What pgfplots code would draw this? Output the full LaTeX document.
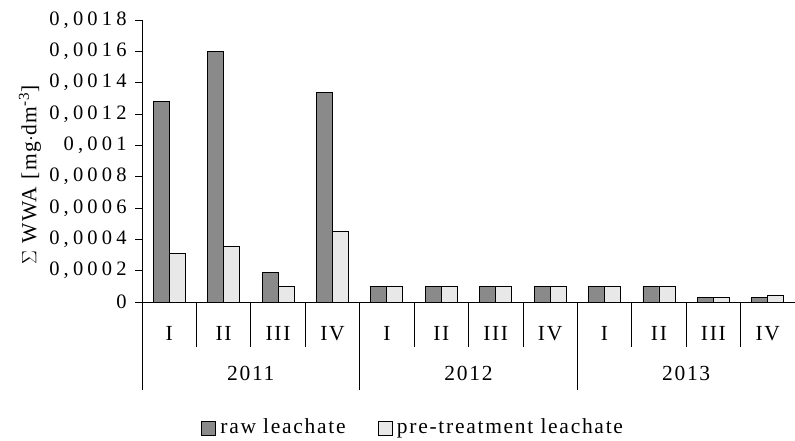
\documentclass[border=0pt]{standalone}
\usepackage{fontspec}
\setmainfont{Liberation Serif}[LetterSpace=8]
\newfontfamily\tickfont{Liberation Serif}
\usepackage{pgfplots}
\pgfplotsset{compat=1.18}

\definecolor{rawgray}{HTML}{8A8A8A}
\definecolor{pregray}{HTML}{E8E8E8}

% spaced tick label: kern between characters
\def\lsp#1{\lspfirst#1\relax}
\def\lspfirst#1{#1\lsprest}
\def\lsprest#1{\ifx#1\relax\else\kern4.2bp#1\expandafter\lsprest\fi}

\begin{document}
\fontsize{21.5bp}{25bp}\selectfont
\begin{tikzpicture}
\path[use as bounding box] (-142bp,-139bp) rectangle (653bp,302bp);
\begin{axis}[
    at={(0,0)}, anchor=south west,
    scale only axis,
    width=653bp, height=282bp,
    ybar=0pt,
    bar width=16bp,
    xmin=-0.5, xmax=11.5,
    ymin=0, ymax=0.0018,
    axis x line*=bottom,
    axis y line*=left,
    axis line style={black, line width=0.8pt},
    xtick={0,...,11},
    xticklabels={I,II,III,IV,I,II,III,IV,I,II,III,IV},
    x tick style={draw=none},
    xticklabel style={yshift=-10bp},
    ytick={0,0.0002,0.0004,0.0006,0.0008,0.001,0.0012,0.0014,0.0016,0.0018},
    yticklabels={\lsp{0},\lsp{0,0002},\lsp{0,0004},\lsp{0,0006},\lsp{0,0008},\lsp{0,001},\lsp{0,0012},\lsp{0,0014},\lsp{0,0016},\lsp{0,0018}},
    yticklabel style={font=\tickfont\fontsize{20.5bp}{24bp}\selectfont, xshift=-1bp},
    y tick style={black, line width=0.8pt},
    tick align=outside,
    major tick length=7bp,
    scaled y ticks=false,
    ylabel={$\Sigma$ WWA [mg$\cdot$dm\textsuperscript{-3}]},
    ylabel style={at={(axis description cs:-0.1715,0.45)}, anchor=center},
    clip=false,
    legend columns=2,
    legend style={draw=none, at={(0.415,-0.447)}, anchor=center,
        /tikz/every even column/.append style={column sep=30bp}},
    legend image code/.code={\draw[#1, draw=black, line width=0.8pt] (0bp,-7bp) rectangle (14bp,7bp);
        \path[draw=none, fill=none] (0bp,0bp) -- (17bp,0bp);},
]
\addplot[fill=rawgray, draw=black, line width=0.8pt] coordinates {
    (0,0.00128) (1,0.0016) (2,0.00019) (3,0.001335)
    (4,0.0001) (5,0.0001) (6,0.0001) (7,0.0001)
    (8,0.0001) (9,0.0001) (10,0.00003) (11,0.00003)
};
\addplot[fill=pregray, draw=black, line width=0.8pt] coordinates {
    (0,0.00031) (1,0.000355) (2,0.0001) (3,0.00045)
    (4,0.0001) (5,0.0001) (6,0.0001) (7,0.0001)
    (8,0.0001) (9,0.0001) (10,0.00003) (11,0.000045)
};
\legend{raw leachate, pre-treatment leachate}

% separators below the axis
\pgfplotsinvokeforeach{0.5,1.5,2.5,4.5,5.5,6.5,8.5,9.5,10.5}{
    \draw[black, line width=0.8pt] (axis cs:#1,0) -- ([yshift=-45bp]axis cs:#1,0);
}
\pgfplotsinvokeforeach{-0.5,3.5,7.5,11.5}{
    \draw[black, line width=0.8pt] (axis cs:#1,0) -- ([yshift=-88bp]axis cs:#1,0);
}
\node at (axis cs:1.5,0) [yshift=-71bp] {2011};
\node at (axis cs:5.5,0) [yshift=-71bp] {2012};
\node at (axis cs:9.5,0) [yshift=-71bp] {2013};
\end{axis}
\end{tikzpicture}
\end{document}
